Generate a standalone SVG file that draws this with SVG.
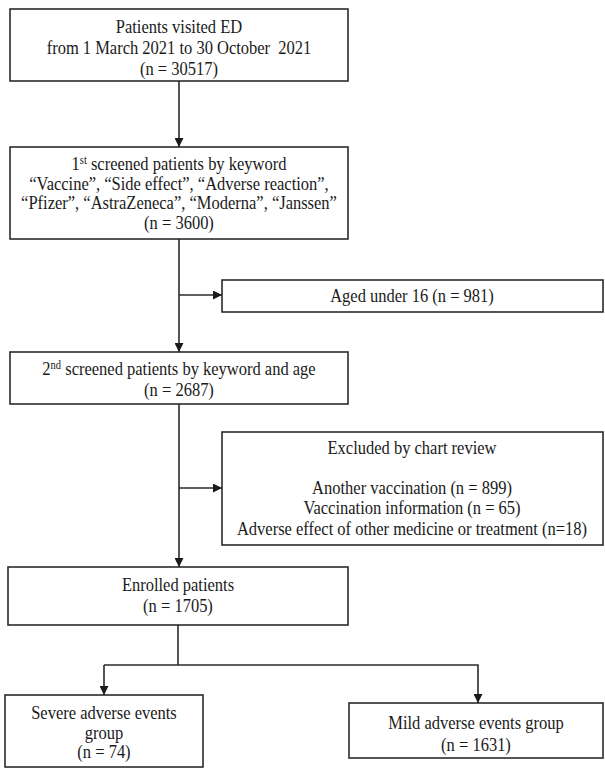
<svg xmlns="http://www.w3.org/2000/svg" width="605" height="769" viewBox="0 0 605 769">
<style>
.box{fill:#fff;stroke:#2b2b2b;stroke-width:1.6}
.t{font-family:"Liberation Serif","Times New Roman",serif;font-size:18px;fill:#1a1a1a;text-anchor:middle;white-space:pre}
.sup{font-size:11.5px}
.c{fill:none;stroke:#2b2b2b;stroke-width:1.6}
</style>
<defs>
<marker id="ah" viewBox="0 0 10 10" refX="10" refY="5" markerWidth="9" markerHeight="9" markerUnits="userSpaceOnUse" orient="auto">
<path d="M0,0 L10,5 L0,10 Z" fill="#1a1a1a"/>
</marker>
</defs>
<rect width="605" height="769" fill="#fff"/>
<g id="connectors">
<line class="c" x1="179" y1="81" x2="179" y2="147" marker-end="url(#ah)"/>
<line class="c" x1="179" y1="239" x2="179" y2="352" marker-end="url(#ah)"/>
<line class="c" x1="179" y1="295" x2="222" y2="295" marker-end="url(#ah)"/>
<line class="c" x1="179" y1="404" x2="179" y2="567" marker-end="url(#ah)"/>
<line class="c" x1="179" y1="488" x2="222" y2="488" marker-end="url(#ah)"/>
<line class="c" x1="178" y1="625" x2="178" y2="665"/>
<polyline class="c" points="104,665 478,665 478,703" marker-end="url(#ah)"/>
<line class="c" x1="104" y1="665" x2="104" y2="695" marker-end="url(#ah)"/>
</g>
<g id="n1">
<rect class="box" x="10" y="9" width="338" height="72"/>
<g transform="matrix(0.917 0 0 1 14.86 0)">
<text class="t" x="179" y="33">Patients visited ED</text>
<text class="t" x="179" y="54">from 1 March 2021 to 30 October  2021</text>
<text class="t" x="179" y="75">(n = 30517)</text>
</g>
</g>
<g id="n2">
<rect class="box" x="10" y="147" width="338" height="92"/>
<g transform="matrix(0.917 0 0 1 14.86 0)">
<text class="t" x="179" y="170">1<tspan class="sup" dy="-6">st</tspan><tspan dy="6"> screened patients by keyword</tspan></text>
<text class="t" x="179" y="190">“Vaccine”, “Side effect”, “Adverse reaction”,</text>
<text class="t" x="179" y="209">“Pfizer”, “AstraZeneca”, “Moderna”, “Janssen”</text>
<text class="t" x="179" y="229">(n = 3600)</text>
</g>
</g>
<g id="n3">
<rect class="box" x="222" y="280" width="381" height="32"/>
<g transform="matrix(0.917 0 0 1 34.2 0)">
<text class="t" x="412" y="302">Aged under 16 (n = 981)</text>
</g>
</g>
<g id="n4">
<rect class="box" x="10" y="352" width="338" height="52"/>
<g transform="matrix(0.917 0 0 1 14.86 0)">
<text class="t" x="179" y="375">2<tspan class="sup" dy="-6">nd</tspan><tspan dy="6"> screened patients by keyword and age</tspan></text>
<text class="t" x="179" y="396">(n = 2687)</text>
</g>
</g>
<g id="n5">
<rect class="box" x="222" y="432" width="381" height="113"/>
<g transform="matrix(0.917 0 0 1 34.2 0)">
<text class="t" x="412" y="454">Excluded by chart review</text>
<text class="t" x="412" y="494">Another vaccination (n = 899)</text>
<text class="t" x="412" y="514">Vaccination information (n = 65)</text>
<text class="t" x="412" y="535">Adverse effect of other medicine or treatment (n=18)</text>
</g>
</g>
<g id="n6">
<rect class="box" x="8" y="567" width="340" height="58"/>
<g transform="matrix(0.917 0 0 1 14.77 0)">
<text class="t" x="178" y="591">Enrolled patients</text>
<text class="t" x="178" y="612">(n = 1705)</text>
</g>
</g>
<g id="n7">
<rect class="box" x="5" y="695" width="198" height="72"/>
<g transform="matrix(0.917 0 0 1 8.63 0)">
<text class="t" x="104" y="719">Severe adverse events</text>
<text class="t" x="104" y="739">group</text>
<text class="t" x="104" y="758">(n = 74)</text>
</g>
</g>
<g id="n8">
<rect class="box" x="349" y="703" width="254" height="55"/>
<g transform="matrix(0.917 0 0 1 39.5 0)">
<text class="t" x="476" y="729">Mild adverse events group</text>
<text class="t" x="476" y="751">(n = 1631)</text>
</g>
</g>
</svg>
